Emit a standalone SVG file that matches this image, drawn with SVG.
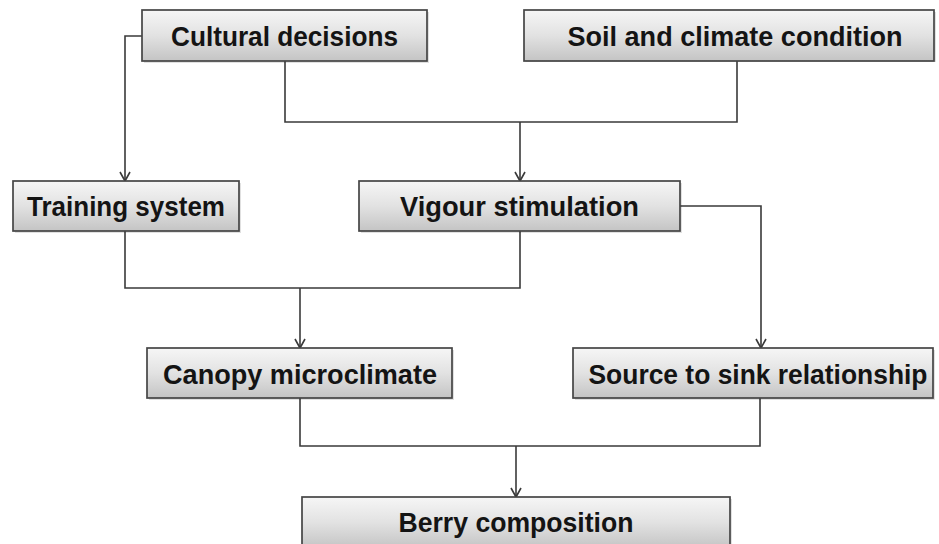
<svg xmlns="http://www.w3.org/2000/svg" width="939" height="544" viewBox="0 0 939 544">
<style>
.box{fill:url(#g);stroke:#454545;stroke-width:1.7}
.sh{fill:#000;opacity:0.12}
.t{font-family:"Liberation Sans",Arial,sans-serif;font-weight:bold;font-size:27px;fill:#141414;text-anchor:middle}
.c{fill:none;stroke:#3a3a3a;stroke-width:1.6}
.a{marker-end:url(#arr)}
</style>
<defs>
<linearGradient id="g" x1="0" y1="0" x2="0" y2="1">
<stop offset="0" stop-color="#f6f6f6"/>
<stop offset="0.5" stop-color="#e2e2e2"/>
<stop offset="1" stop-color="#c4c4c4"/>
</linearGradient>
<marker id="arr" markerWidth="14" markerHeight="14" refX="12" refY="7" orient="auto" markerUnits="userSpaceOnUse" viewBox="0 0 14 14">
<path d="M3,2 L12,7 L3,12" fill="none" stroke="#3a3a3a" stroke-width="1.6"/>
</marker>
</defs>
<rect width="939" height="544" fill="#fff"/>
<g id="connectors">
<path class="c a" d="M142,36 H125 V181"/>
<path class="c" d="M285,61 V122 H737 V61"/>
<path class="c a" d="M520,122 V181"/>
<path class="c" d="M125,231 V288 H520 V231"/>
<path class="c a" d="M300,288 V348"/>
<path class="c a" d="M680,206 H761 V348"/>
<path class="c" d="M300,398 V446 H760 V398"/>
<path class="c a" d="M516,446 V497"/>
</g>
<g id="cultural">
<rect class="sh" x="144" y="12" width="285" height="51"/>
<rect class="box" x="142" y="10" width="285" height="51"/>
<text class="t" x="284.5" y="45.5" textLength="227" lengthAdjust="spacingAndGlyphs">Cultural decisions</text>
</g>
<g id="soil">
<rect class="sh" x="526" y="12" width="410" height="50"/>
<rect class="box" x="524" y="10" width="410" height="51"/>
<text class="t" x="735" y="45.5" textLength="335" lengthAdjust="spacingAndGlyphs">Soil and climate condition</text>
</g>
<g id="training">
<rect class="sh" x="15" y="183" width="226" height="50"/>
<rect class="box" x="13" y="181" width="226" height="50"/>
<text class="t" x="126" y="215.5" textLength="198" lengthAdjust="spacingAndGlyphs">Training system</text>
</g>
<g id="vigour">
<rect class="sh" x="361" y="183" width="321" height="50"/>
<rect class="box" x="359" y="181" width="321" height="50"/>
<text class="t" x="519.5" y="215.5" textLength="239" lengthAdjust="spacingAndGlyphs">Vigour stimulation</text>
</g>
<g id="canopy">
<rect class="sh" x="149" y="350" width="305" height="50"/>
<rect class="box" x="147" y="348" width="305" height="50"/>
<text class="t" x="300" y="383.5" textLength="274" lengthAdjust="spacingAndGlyphs">Canopy microclimate</text>
</g>
<g id="source">
<rect class="sh" x="575" y="350" width="360" height="50"/>
<rect class="box" x="573" y="348" width="360" height="50"/>
<text class="t" x="758" y="383.5" textLength="339" lengthAdjust="spacingAndGlyphs">Source to sink relationship</text>
</g>
<g id="berry">
<rect class="sh" x="304" y="499" width="428" height="51"/>
<rect class="box" x="302" y="497" width="428" height="51"/>
<text class="t" x="516" y="531.5" textLength="235" lengthAdjust="spacingAndGlyphs">Berry composition</text>
</g>
</svg>
